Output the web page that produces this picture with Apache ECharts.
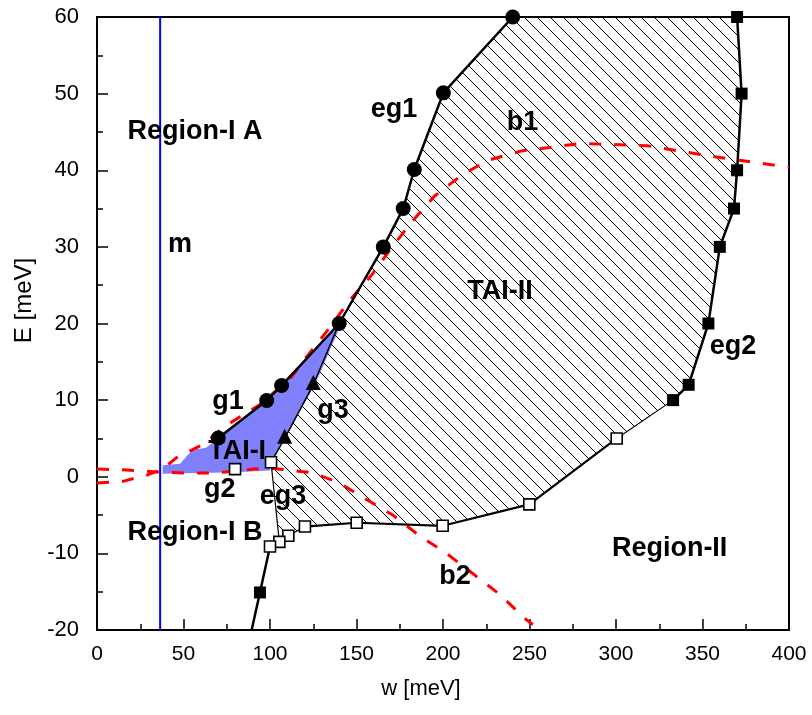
<!DOCTYPE html>
<html>
<head>
<meta charset="utf-8">
<script src="https://cdn.jsdelivr.net/npm/echarts@6/dist/echarts.min.js"></script>
<style>
html, body { margin: 0; padding: 0; background: #fff; }
#main { width: 812px; height: 715px; }
</style>
</head>
<body>
<div id="main"></div>
<script>
// curves, [w, E] in meV
var eg1 = [[70.1, 5.05], [98.1, 9.96], [106.7, 11.9], [140, 20], [165.5, 30], [177, 35], [183.4, 40.1], [200.2, 50.1], [240.3, 60]];
var eg2 = [[370, 60], [372.6, 50], [370, 40], [368.2, 35], [360, 30], [353.4, 20], [342, 12], [333, 10]];
var eg2Tail = [[333, 10], [300.4, 5]];
var lowerEdge = [[300.4, 5], [249.9, -3.6], [199.8, -6.4], [150.1, -6], [120.2, -6.5]];
var lowerThin = [[120.2, -6.5], [110.6, -7.7], [105.4, -8.5], [100, -9.1]];
var lowerLeg = [[100, -9.1], [94.2, -15.1], [89.4, -20]];
var eg3 = [[100.6, 1.9], [105.4, -8.5]];
var g3 = [[100.6, 1.9], [108.5, 5], [125, 12], [140, 20]];
var g3Marks = [[108.5, 5.3], [125, 12.3]];
var openSquares = [[300.4, 5], [249.9, -3.6], [199.8, -6.4], [150.1, -6], [120.2, -6.5], [110.6, -7.7], [105.4, -8.5], [100, -9.1], [100.6, 1.9], [79.8, 1.0]];
var filledSquares = eg2.concat([[94.2, -15.1]]);
var b1 = [[0, -0.8], [15, -0.6], [30, 0.3], [38, 1.0], [46, 2.5], [55, 3.5], [61, 4.2], [74, 6.6], [94, 9.4], [112, 12.9], [121, 15.6], [135, 19.6], [146, 23], [159, 26.4], [170, 29.8], [182, 33.3], [195, 36.6], [211, 39.4], [226, 41.3], [245, 42.5], [280, 43.5], [318, 43.2], [356, 41.8], [400, 40.4]];
var b2 = [[0, 1.0], [15, 0.9], [30, 0.7], [37, 0.6], [50, 0.5], [65, 0.5], [80, 0.7], [90, 1.0], [100, 1.1], [110, 0.9], [125, 0.5], [140, -0.8], [156, -3], [171, -5], [187, -7.8], [202, -10], [217, -12.6], [233, -15.4], [248.4, -18.7], [252, -19.3]];
var mLine = [[36.5, -20], [36.5, 60]];
// regions
var taiOne = [[38, 0.4], [38, 1.5], [48, 1.7], [55, 3.5], [63, 3.8], [70, 5], [98, 10], [106, 12], [140, 20], [147, 23], [126, 12], [108, 5], [100.6, 1.9], [100, 0.8], [80, 0.6], [38, 0.4]];
var taiTwo = [[140, 20], [165.5, 30], [177, 35], [183.4, 40.1], [200.2, 50.1], [240.3, 60], [370, 60], [372.6, 50], [370, 40], [368.2, 35], [360, 30], [353.4, 20], [342, 12], [333, 10], [300.4, 5], [249.9, -3.6], [199.8, -6.4], [150.1, -6], [120.2, -6.5], [110.6, -7.7], [105.4, -8.5], [100.6, 1.9], [108.5, 5], [125, 12], [140, 20]];
// text labels
var labels = [
	['Region-I A', 56.6, 45], ['m', 48, 30.3], ['eg1', 171.7, 47.9], ['b1', 246, 46.2],
	['TAI-II', 233, 24.2], ['eg2', 367.6, 17], ['g1', 75.7, 9.8], ['g3', 136.4, 8.7],
	['TAI-I', 81, 3.3], ['g2', 71, -1.7], ['eg3', 107.5, -2.6], ['Region-I B', 56.6, -7.3],
	['Region-II', 331, -9.4], ['b2', 207, -13]
];

function hatch() {
	var s = 13;
	var c = document.createElement('canvas');
	c.width = s; c.height = s;
	var ctx = c.getContext('2d');
	ctx.strokeStyle = '#000';
	ctx.lineWidth = 1;
	[-s, 0, s].forEach(function (x0) {
		ctx.beginPath();
		ctx.moveTo(x0, 0);
		ctx.lineTo(x0 + s, s);
		ctx.stroke();
	});
	return { image: c, repeat: 'repeat' };
}

function area(points, fill, z) {
	return {
		type: 'custom',
		coordinateSystem: 'cartesian2d',
		silent: true,
		clip: true,
		z: z,
		data: [points[0]],
		renderItem: function (params, api) {
			return {
				type: 'polygon',
				shape: { points: points.map(function (p) { return api.coord(p); }) },
				style: { fill: fill }
			};
		}
	};
}

function line(data, width, color, z, dash) {
	return {
		type: 'line',
		data: data,
		symbol: 'none',
		z: z,
		lineStyle: { width: width, color: color, type: dash || 'solid' },
		silent: true
	};
}

function marks(data, symbol, size, fill, z) {
	return {
		type: 'scatter',
		data: data,
		symbol: symbol,
		symbolSize: size,
		z: z,
		itemStyle: { color: fill, borderColor: '#000', borderWidth: fill === '#fff' ? 1.6 : 0, opacity: 1 },
		silent: true
	};
}

var myChart = echarts.init(document.getElementById('main'));
var option = {
	animation: false,
	grid: { left: 97, right: 23, top: 17, bottom: 85, show: true, borderColor: '#000', borderWidth: 2, backgroundColor: 'transparent' },
	xAxis: {
		type: 'value', min: 0, max: 400, interval: 50,
		name: 'w [meV]', nameLocation: 'middle', nameGap: 48,
		nameTextStyle: { fontSize: 22, color: '#000', fontFamily: 'Liberation Sans, Arial', padding: [0, 44, 0, 0] },
		axisLine: { onZero: false, lineStyle: { color: '#000', width: 2 } },
		axisTick: { inside: true, length: 11, lineStyle: { color: '#000', width: 1.5 } },
		minorTick: { show: true, splitNumber: 2, length: 6, lineStyle: { color: '#000', width: 1.5 } },
		axisLabel: { fontSize: 21, color: '#000', margin: 14, fontFamily: 'Liberation Sans, Arial' },
		splitLine: { show: false }
	},
	yAxis: {
		type: 'value', min: -20, max: 60, interval: 10,
		name: 'E [meV]', nameLocation: 'middle', nameGap: 56,
		nameTextStyle: { fontSize: 24, color: '#000', fontFamily: 'Liberation Sans, Arial', padding: [0, 0, 0, 46] },
		axisLine: { onZero: false, lineStyle: { color: '#000', width: 2 } },
		axisTick: { inside: true, length: 11, lineStyle: { color: '#000', width: 1.5 } },
		minorTick: { show: true, splitNumber: 2, length: 6, lineStyle: { color: '#000', width: 1.5 } },
		axisLabel: { fontSize: 22, color: '#000', margin: 18, fontFamily: 'Liberation Sans, Arial' },
		splitLine: { show: false }
	},
	series: [
		area(taiOne, '#8080fa', 1),
		area(taiTwo, hatch(), 2),
		line(mLine, 2, '#0000ff', 3),
		line(b1, 3, '#ff0000', 4, [12, 13]),
		line(b2, 3, '#ff0000', 4, [12, 13]),
		line(eg1, 2.5, '#000', 5),
		line(eg2, 2.5, '#000', 5),
		line(eg2Tail, 1.2, '#000', 5),
		line(lowerEdge, 2.2, '#000', 5),
		line(lowerThin, 1.2, '#000', 5),
		line(lowerLeg, 2.5, '#000', 5),
		line(eg3, 1.2, '#000', 5),
		line(g3, 1.5, '#000', 5),
		marks(eg1, 'circle', 15, '#000', 6),
		marks(filledSquares, 'rect', 12, '#000', 6),
		marks(openSquares, 'rect', 11, '#fff', 6),
		marks(g3Marks, 'triangle', 15, '#000', 6),
		{
			type: 'scatter',
			symbolSize: 0,
			z: 7,
			silent: true,
			itemStyle: { opacity: 1 },
			data: labels.map(function (l) { return { name: l[0], value: [l[1], l[2]] }; }),
			label: {
				show: true, position: 'inside', formatter: '{b}',
				fontSize: 27, fontWeight: 'bold', color: '#000',
				textBorderWidth: 0, opacity: 1,
				fontFamily: 'Liberation Sans, Arial'
			}
		}
	]
};
myChart.setOption(option);
</script>
</body>
</html>
